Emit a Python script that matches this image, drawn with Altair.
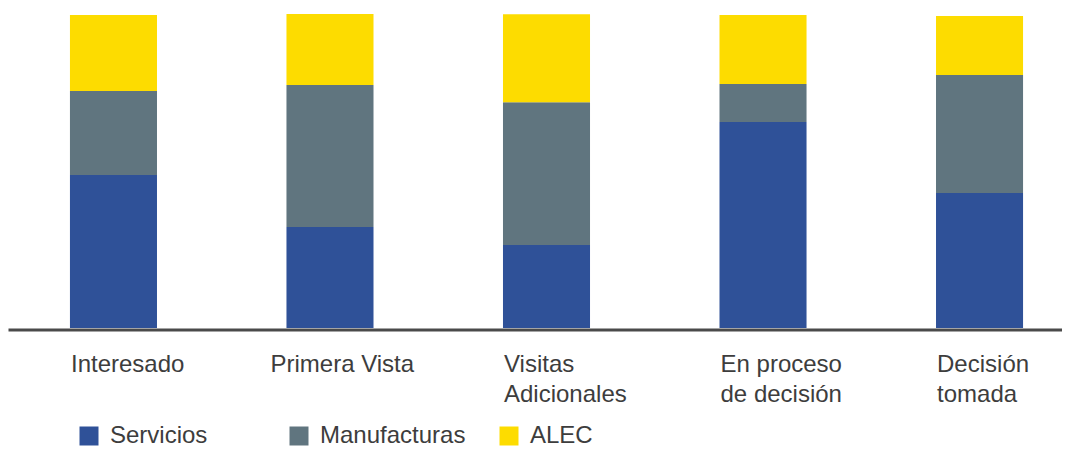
import altair as alt
import pandas as pd

categories = ["Interesado", "Primera Vista", "Visitas Adicionales", "En proceso de decisión", "Decisión tomada"]
tick_labels = ["Interesado", "Primera Vista", "Visitas\nAdicionales", "En proceso\nde decisión", "Decisión\ntomada"]
series = ["Servicios", "Manufacturas", "ALEC"]
colors = ["#2F5198", "#60757F", "#FDDC00"]
servicios = [48.7, 32.2, 26.4, 65.6, 43.0]
manufacturas = [26.8, 45.2, 45.5, 12.1, 37.6]
alec = [24.2, 22.6, 28.0, 22.0, 18.8]

rows = []
for i, c in enumerate(categories):
    for j, (s, vals) in enumerate(zip(series, [servicios, manufacturas, alec])):
        rows.append({"cat": c, "serie": s, "valor": vals[i], "orden": j})
df = pd.DataFrame(rows)

label_map = {c: l for c, l in zip(categories, tick_labels)}
label_expr = "split(" + "{" + ", ".join(f"'{c}': '{l}'".replace("\n", "\\n") for c, l in label_map.items()) + "}[datum.label], '\\n')"

FONT = "Liberation Sans"
TXT = "#3d3d3d"

chart = alt.Chart(df).mark_bar().encode(
    x=alt.X("cat:N", sort=categories,
            scale=alt.Scale(paddingInner=0.598, paddingOuter=0.233, align=0.614),
            axis=alt.Axis(title=None, ticks=False, tickSize=0, domainWidth=3, domainColor="#4a4a4a",
                          offset=1.5, labelAlign="left", labelBaseline="alphabetic",
                          labelOffset={"condition": {"test": "datum.value == 'Primera Vista'", "value": -59.5},
                                       "value": -42.5},
                          labelPadding=41.5, labelAngle=0, labelFont=FONT, labelFontSize=24,
                          labelColor=TXT, labelLineHeight=30, labelExpr=label_expr,
                          labelLimit=400)),
    y=alt.Y("valor:Q", stack="zero", scale=alt.Scale(domain=[0, 100], nice=False),
            axis=None),
    color=alt.Color("serie:N", sort=series,
                    scale=alt.Scale(domain=series, range=colors),
                    legend=alt.Legend(title=None, orient="none", legendX=69, legendY=410,
                                      direction="horizontal", columns=3, gridAlign="all",
                                      columnPadding=31, symbolType="square", symbolSize=361,
                                      symbolStrokeWidth=0, labelOffset=9, labelFont=FONT,
                                      labelFontSize=24, labelColor=TXT, padding=0,
                                      labelLimit=400)),
    order=alt.Order("orden:Q", sort="ascending"),
).properties(
    width=1054, height=314,
    autosize=alt.AutoSizeParams(type="none"),
    padding={"left": 0, "top": 6, "right": 0, "bottom": 123},
).configure(background="white").configure_view(stroke=None)

chart.save("out.html", embed_options={"renderer": "svg", "actions": False})
